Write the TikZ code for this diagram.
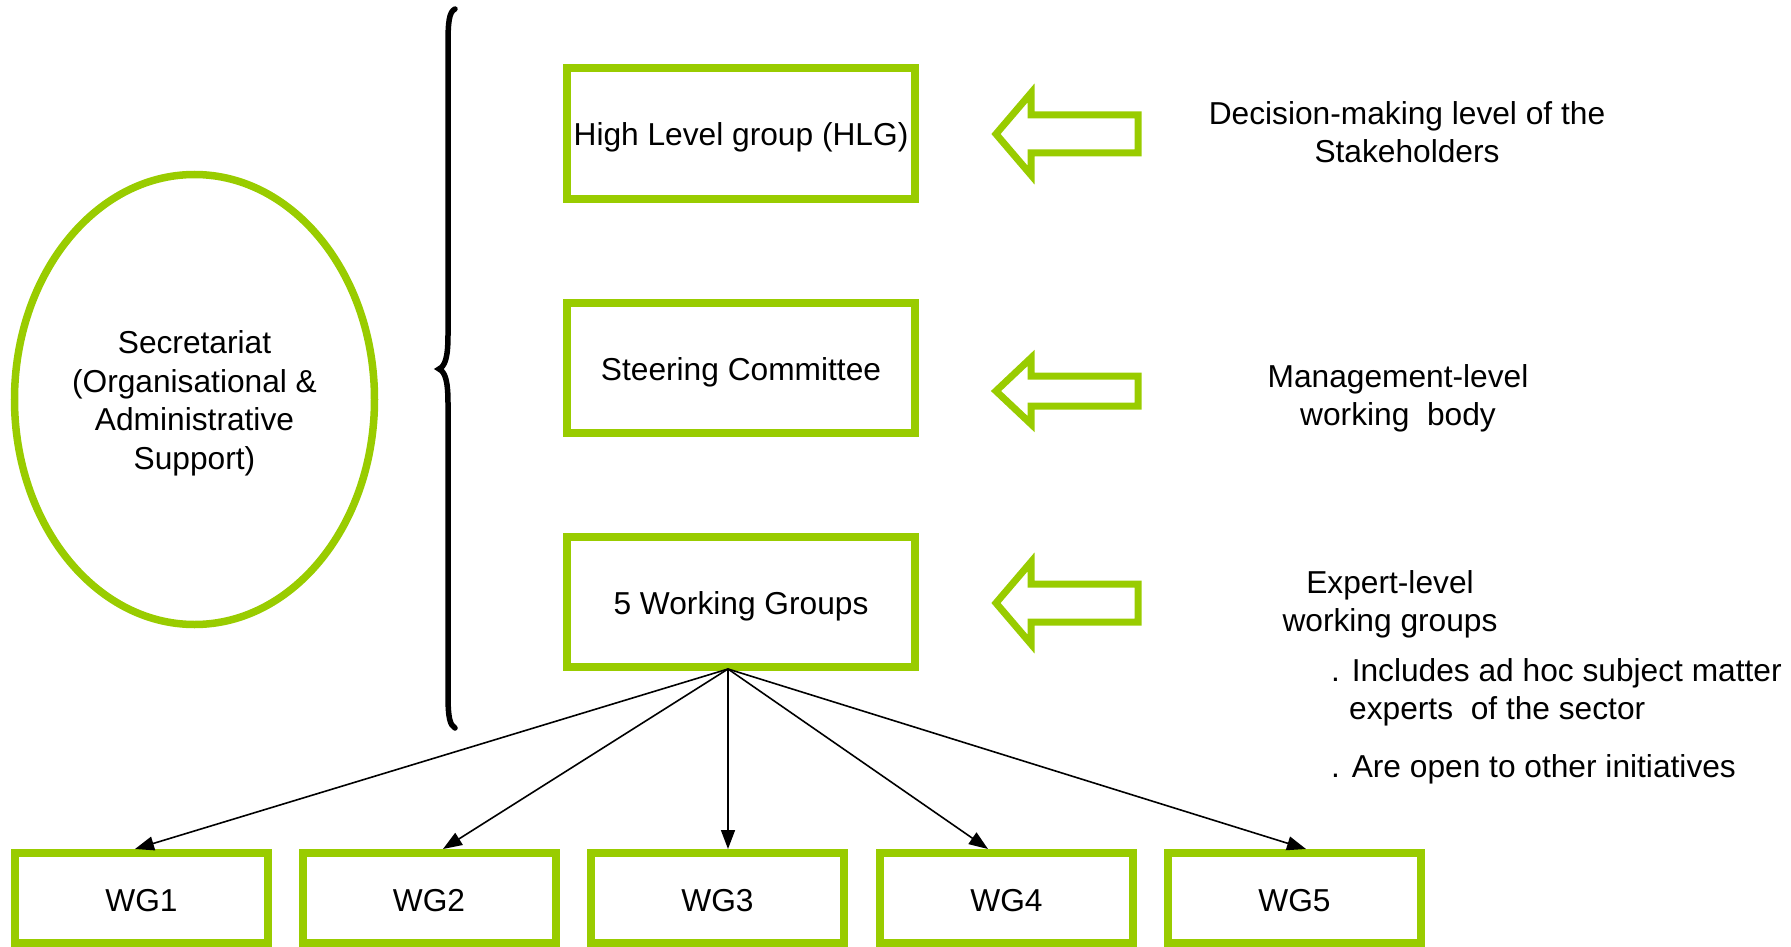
\documentclass[tikz,border=0pt]{standalone}
\usepackage{fontspec}
\setmainfont{Liberation Sans}
\usetikzlibrary{arrows.meta,shapes.geometric}
\definecolor{lgreen}{HTML}{99CC00}
\newcommand{\blockarr}[3]{%
  \draw[blockarrow] (996,#1) -- (1031,#1-#2) -- (1031,#1-#3) -- (1138,#1-#3)
    -- (1138,#1+#3) -- (1031,#1+#3) -- (1031,#1+#2) -- cycle;}
\begin{document}
\begin{tikzpicture}[x=1pt,y=-1pt,
  txt/.style={font=\fontsize{31.7}{38.5}\selectfont, inner sep=0pt},
  gbox/.style={draw=lgreen, line width=8pt, minimum width=348pt, minimum height=130pt, inner sep=0pt, txt, text height=28pt, text depth=3pt},
  wgbox/.style={draw=lgreen, line width=8pt, minimum width=253pt, minimum height=90pt, inner sep=0pt, txt, text height=29pt, text depth=3pt},
  blockarrow/.style={draw=lgreen, line width=7pt},
  conn/.style={line width=1.6pt, -{Triangle[length=19pt,width=14pt]}},
  bracestyle/.style={line width=5.5pt, line cap=round}
]
\useasboundingbox (0,0) rectangle (1791,947);

% secretariat
\node[draw=lgreen, line width=7.5pt, ellipse, minimum width=360pt, minimum height=450pt, inner sep=0pt] (sec) at (194.5,399.5) {};
\node[txt, align=center] (sectxt) at (194.5,403.5) {Secretariat\\(Organisational \&\\Administrative\\Support)};

% brace
\draw[bracestyle] (455,9) .. controls (449,12) and (448,22) .. (448,45) -- (448,335)
  .. controls (448,358) and (445,366) .. (439,369)
  .. controls (445,372) and (448,380) .. (448,403) -- (448,695)
  .. controls (448,718) and (450,725) .. (455,728);

% main boxes
\node[gbox] (hlg) at (741,133.5) {High Level group (HLG)};
\node[gbox] (sc) at (741,367.5) {Steering Committee};
\node[gbox] (fwg) at (741,602) {5 Working Groups};

% block arrows
\blockarr{134}{41}{19}
\blockarr{391}{33}{15}
\blockarr{603}{41}{19}

% right texts
\node[txt, align=center] (d1) at (1407,132) {Decision-making level of the\\Stakeholders};
\node[txt, align=center] (d2) at (1398,398.5) {Management-level\\working\ \ body};
\node[txt, align=center] (d3) at (1390,604.5) {Expert-level\\working groups};
\node[txt, anchor=base west] (d4) at (1331,681) {. Includes ad hoc subject matter};
\node[txt, anchor=base west] (d5) at (1349,719) {experts\ \ of the sector};
\node[txt, anchor=base west] (d6) at (1331,777) {. Are open to other initiatives};

% WG boxes
\node[wgbox] (wg1) at (141.5,898) {WG1};
\node[wgbox] (wg2) at (429,898) {WG2};
\node[wgbox] (wg3) at (717.5,898) {WG3};
\node[wgbox] (wg4) at (1006.5,898) {WG4};
\node[wgbox] (wg5) at (1294.5,898) {WG5};

\coordinate (src) at (728,669);
\coordinate (t1) at (135,849);
\coordinate (t2) at (443,849);
\coordinate (t3) at (728,849);
\coordinate (t4) at (988,849);
\coordinate (t5) at (1306,849);
\foreach \t in {t1,t2,t3,t4,t5} \draw[conn] (src) -- (\t);
\end{tikzpicture}
\end{document}
